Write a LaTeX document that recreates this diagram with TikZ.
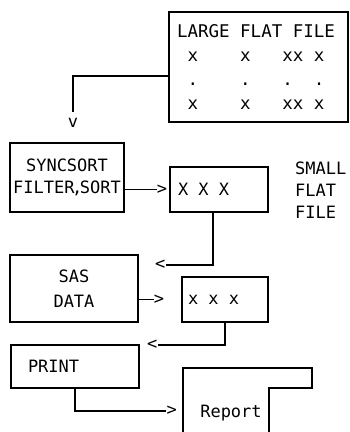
\documentclass[tikz,border=0pt]{standalone}
\usepackage{fontspec}
\newfontfamily\printfont{DejaVu Sans Mono}
\newcommand\gap{\hphantom{x}}

\tikzset{
  boxline/.style={line width=1.6pt},
  stepbox/.style={draw, boxline, inner ysep=0pt, font=\printfont\fontsize{17}{22}\selectfont},
  tipmark/.style={inner sep=0pt, font=\printfont\fontsize{17}{22}\selectfont},
}

\begin{document}
\begin{tikzpicture}[x=1pt, y=-1pt]
  \useasboundingbox (0,0) rectangle (350,432);

  % boxes
  \node[stepbox, inner xsep=8pt, text width=163pt, minimum height=110pt, align=left,
        font=\printfont\fontsize{17.5}{24}\selectfont] (large) at (258.5,67)
    {LARGE\gap FLAT\gap FILE\\
     \gap x\gap\gap\gap\gap x\gap\gap\gap xx\gap x\\
     \gap .\gap\gap\gap\gap .\gap\gap\gap .\gap\gap .\\
     \gap x\gap\gap\gap\gap x\gap\gap\gap xx\gap x};
  \node[stepbox, minimum width=110pt, minimum height=69pt, align=center] (sync) at (67,177.5)
    {SYNCSORT\\FILTER\kern-2.5pt,\kern-2.5pt SORT};
  \node[stepbox, inner xsep=8pt, text width=82pt, minimum height=45pt, align=left] (small1) at (219,189.5)
    {X\gap X\gap X};
  \node[tipmark, anchor=west, align=left] (smalllbl) at (295,190) {SMALL\\FLAT\\FILE};
  \node[stepbox, minimum width=128pt, minimum height=67pt, align=center,
        font=\printfont\fontsize{17}{25}\selectfont] (sas) at (74,288.5)
    {SAS\\DATA};
  \node[stepbox, inner xsep=6pt, text width=74pt, minimum height=45pt, align=left] (small2) at (225,299.5)
    {x\gap x\gap x};
  \node[stepbox, inner xsep=17pt, text width=94pt, minimum height=43pt, align=left] (print) at (75,366.5)
    {PRINT};

  % report sheet
  \draw[boxline] (183,432) |- (312,368) |- (269,388) -- (269,432);
  \node[tipmark] (report) at (231,413) {Report};

  % arrow heads
  \node[tipmark] (tipv) at (73,123) {v};
  \node[tipmark, anchor=east] (tip1) at ([xshift=-2pt]small1.west) {>};
  \node[tipmark, anchor=west] (tip2) at (155,265) {<};
  \node[tipmark, anchor=east] (tip5) at ([xshift=-17pt]small2.west) {>};
  \node[tipmark, anchor=west] (tip3) at (147,345) {<};
  \node[tipmark, anchor=east] (tip4) at (177,411) {>};

  % connectors
  \draw[boxline, shorten >=6pt] ([yshift=-9pt]large.west) -| (tipv.north);
  \draw[boxline] (sync.east |- tip1) -- (tip1);
  \draw[boxline] ([xshift=-6pt]small1.south) |- (tip2);
  \draw[boxline] (sas.east |- tip5) -- (tip5);
  \draw[boxline] (small2.south) |- (tip3);
  \draw[boxline] (print.south) |- (tip4);
\end{tikzpicture}
\end{document}
